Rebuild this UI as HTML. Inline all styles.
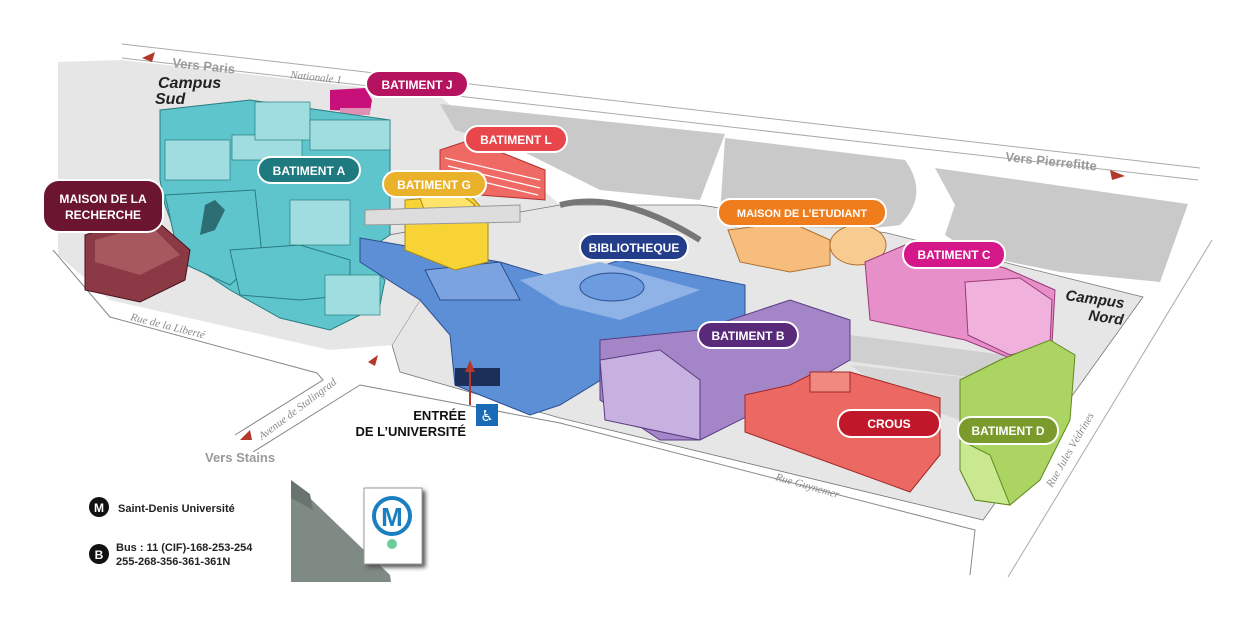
<!DOCTYPE html>
<html><head><meta charset="utf-8"><style>
html,body{margin:0;padding:0;background:#fff;width:1254px;height:617px;overflow:hidden}
svg{display:block}
.lab{font-family:"Liberation Sans",sans-serif;font-weight:bold;font-size:12px;fill:#fff}
.road{font-family:"Liberation Serif",serif;font-style:italic;font-size:11px;fill:#8a8a8a}
.vers{font-family:"Liberation Sans",sans-serif;font-weight:bold;font-size:13px;fill:#9a9a9a}
</style></head><body>
<svg width="1254" height="617" viewBox="0 0 1254 617" xmlns="http://www.w3.org/2000/svg">
<polygon points="58,62 122,60 440,96 560,205 420,300 392,345 330,350 110,300 58,255" fill="#e6e6e6"/>
<polygon points="360,240 560,205 700,205 887,233 1143,297 983,520 560,418 400,372 392,345 420,300" fill="#e6e6e6" stroke="#777" stroke-width="0.8"/>
<polygon points="392,345 420,300 360,262 330,345" fill="#e6e6e6"/>
<line x1="122" y1="44" x2="1200" y2="168" stroke="#aaa"/>
<line x1="122" y1="58" x2="1198" y2="180" stroke="#aaa"/>
<polyline points="53,250 110,317 317,373 323,380 235,435" fill="none" stroke="#888"/>
<polyline points="253,452 360,385 560,423 975,530 970,575" fill="none" stroke="#888"/>
<line x1="1212" y1="240" x2="1008" y2="577" stroke="#aaa"/>
<polygon points="440,104 725,134 700,200 600,190 520,150 455,130" fill="#c9c9c9"/>
<path d="M725,138 L905,160 Q930,195 900,225 Q850,232 780,225 L720,215 Z" fill="#c9c9c9"/>
<polygon points="935,168 1188,204 1160,282 1060,272 975,255 945,235 955,205" fill="#c9c9c9"/>
<polygon points="850,335 1005,355 990,380 840,360" fill="#cfcfcf"/>
<polygon points="850,365 990,380 960,420 900,400" fill="#d6d6d6"/>
<polygon points="330,90 365,88 372,100 370,112 330,110" fill="#c8107a"/>
<polygon points="340,108 370,108 370,115 340,115" fill="#e090b5"/>
<g fill="#5fc5cc" stroke="#2a7c80" stroke-width="1">
<polygon points="160,110 250,100 390,120 390,235 360,255 385,280 380,305 330,330 280,318 230,290 185,260 165,205 160,180"/>
<polygon points="165,195 255,190 262,255 230,285 180,262"/>
<polygon points="230,250 300,245 350,260 350,295 300,300 240,295"/>
</g>
<g fill="#9fdde0" stroke="#2a7c80" stroke-width="0.7">
<rect x="165" y="140" width="65" height="40"/><rect x="232" y="135" width="70" height="25"/>
<rect x="255" y="102" width="55" height="38"/><rect x="310" y="120" width="80" height="30"/>
<rect x="290" y="200" width="60" height="45"/><rect x="325" y="275" width="55" height="40"/>
</g>
<polygon points="205,205 215,200 225,210 215,230 200,235" fill="#2c6e73"/>
<polygon points="85,235 150,215 190,250 185,280 140,302 85,290" fill="#8b3a45" stroke="#4a1020"/>
<polygon points="95,240 150,225 180,255 140,275 95,262" fill="#a7585f"/>
<polygon points="440,150 470,140 545,170 545,200 480,195 440,175" fill="#ef6a64" stroke="#b03030"/>
<g stroke="#fff" stroke-width="1.2"><line x1="445" y1="158" x2="540" y2="180"/><line x1="448" y1="166" x2="540" y2="188"/><line x1="450" y1="174" x2="538" y2="195"/></g>
<polygon points="360,238 430,250 500,262 560,280 620,260 745,285 745,330 650,350 560,405 530,415 455,385 450,335 420,300 360,262" fill="#5d8fd6" stroke="#2c4f8f"/>
<polygon points="520,280 600,262 700,290 620,320 560,305" fill="#8fb3e6"/>
<ellipse cx="612" cy="287" rx="32" ry="14" fill="#6d9be0" stroke="#2c4f8f"/>
<polygon points="425,270 500,262 520,300 440,300" fill="#7aa3e0" stroke="#2c4f8f"/>
<rect x="455" y="368" width="45" height="18" fill="#1c2f58"/>
<polygon points="405,200 470,195 488,215 488,262 455,270 405,250" fill="#f7d336" stroke="#a88810"/>
<polygon points="420,198 455,190 475,205 455,218 425,212" fill="#ffe36a" stroke="#a88810"/>
<polygon points="600,340 700,330 790,300 850,320 850,360 790,395 700,440 660,440 600,400" fill="#a485c8" stroke="#5a3a80"/>
<polygon points="600,360 660,350 700,380 700,440 605,420" fill="#c7b1e0" stroke="#5a3a80"/>
<polygon points="728,230 790,222 830,240 830,265 790,272 740,262" fill="#f6bd7c" stroke="#b07030"/>
<ellipse cx="858" cy="245" rx="28" ry="20" fill="#f8cb90" stroke="#b07030"/>
<polygon points="865,262 905,245 1005,268 1055,290 1052,345 1010,358 965,340 870,320" fill="#e68fc8" stroke="#9a3a7a"/>
<polygon points="965,282 1020,278 1052,300 1050,345 1010,355 968,335" fill="#f0b2dc" stroke="#9a3a7a"/>
<polygon points="745,395 790,385 810,375 850,372 940,398 940,455 910,492 745,432" fill="#ec6862" stroke="#a02828"/>
<rect x="810" y="372" width="40" height="20" fill="#f08a80" stroke="#a02828"/>
<polygon points="960,380 1000,360 1050,340 1075,355 1070,420 1040,480 1010,505 975,500 960,470" fill="#acd462" stroke="#5f8a20"/>
<polygon points="960,440 990,455 1010,505 975,500 960,470" fill="#c9e890" stroke="#5f8a20"/>
<polygon points="365,210 520,205 520,222 365,225" fill="#ddd" stroke="#999"/>
<path d="M560 205 Q620 190 700 240" stroke="#777" stroke-width="6" fill="none"/>
<g stroke="#fff" stroke-width="2">
<rect x="366" y="71" width="102" height="26" rx="13" fill="#b5125f"/>
<rect x="465" y="126" width="102" height="26" rx="13" fill="#e8464b"/>
<rect x="258" y="157" width="102" height="26" rx="13" fill="#1f7a80"/>
<rect x="383" y="171" width="103" height="26" rx="13" fill="#eab12a"/>
<rect x="43" y="180" width="120" height="52" rx="16" fill="#6b1530"/>
<rect x="718" y="199" width="168" height="27" rx="13" fill="#ef7d1c"/>
<rect x="580" y="234" width="108" height="26" rx="13" fill="#233d8a"/>
<rect x="903" y="241" width="102" height="27" rx="13" fill="#d4188a"/>
<rect x="698" y="322" width="100" height="26" rx="13" fill="#5a2a7a"/>
<rect x="838" y="410" width="102" height="27" rx="13" fill="#c0182a"/>
<rect x="958" y="417" width="100" height="27" rx="13" fill="#7a9a2c"/>
</g>
<g class="lab" text-anchor="middle">
<text x="417" y="89">BATIMENT J</text>
<text x="516" y="144">BATIMENT L</text>
<text x="309" y="175">BATIMENT A</text>
<text x="434" y="189">BATIMENT G</text>
<text x="103" y="203">MAISON DE LA</text>
<text x="103" y="219">RECHERCHE</text>
<text x="802" y="217" font-size="11">MAISON DE L’ETUDIANT</text>
<text x="634" y="252">BIBLIOTHEQUE</text>
<text x="954" y="259">BATIMENT C</text>
<text x="748" y="340">BATIMENT B</text>
<text x="889" y="428">CROUS</text>
<text x="1008" y="435">BATIMENT D</text>
</g>
<polygon points="142,58 155,52 152,62" fill="#b3372a"/>
<text class="vers" x="172" y="67" transform="rotate(6 172 67)">Vers Paris</text>
<text class="road" x="290" y="78" transform="rotate(6 290 78)">Nationale 1</text>
<text x="158" y="88" font-family="Liberation Sans,sans-serif" font-weight="bold" font-style="italic" font-size="16" fill="#222">Campus</text>
<text x="155" y="104" font-family="Liberation Sans,sans-serif" font-weight="bold" font-style="italic" font-size="16" fill="#222">Sud</text>
<text class="vers" x="1005" y="161" transform="rotate(6 1005 161)">Vers Pierrefitte</text>
<polygon points="1110,170 1125,176 1112,180" fill="#b3372a"/>
<text x="1065" y="300" font-family="Liberation Sans,sans-serif" font-weight="bold" font-style="italic" font-size="15" fill="#222" transform="rotate(8 1065 300)">Campus</text>
<text x="1088" y="320" font-family="Liberation Sans,sans-serif" font-weight="bold" font-style="italic" font-size="15" fill="#222" transform="rotate(8 1088 320)">Nord</text>
<text class="road" x="130" y="320" transform="rotate(14 130 320)">Rue de la Liberté</text>
<text class="road" x="262" y="440" transform="rotate(-37 262 440)">Avenue de Stalingrad</text>
<polygon points="240,440 250,430 252,440" fill="#b3372a"/>
<polygon points="378,355 368,362 375,366" fill="#b3372a"/>
<text class="vers" x="205" y="462">Vers Stains</text>
<text class="road" x="775" y="480" transform="rotate(16 775 480)">Rue Guynemer</text>
<text class="road" x="1052" y="488" transform="rotate(-60 1052 488)">Rue Jules Védrines</text>
<line x1="470" y1="405" x2="470" y2="370" stroke="#b3372a" stroke-width="2"/>
<polygon points="465,372 470,360 475,372" fill="#b3372a"/>
<g font-family="Liberation Sans,sans-serif" font-weight="bold" font-size="13" fill="#111" text-anchor="end">
<text x="466" y="420">ENTRÉE</text><text x="466" y="436">DE L’UNIVERSITÉ</text></g>
<rect x="476" y="404" width="22" height="22" fill="#1a6bb5"/>
<text x="487" y="421" text-anchor="middle" font-size="15" fill="#fff" font-family="DejaVu Sans,sans-serif">♿</text>
<circle cx="99" cy="507" r="10" fill="#111"/>
<text x="99" y="512" text-anchor="middle" font-family="Liberation Sans,sans-serif" font-weight="bold" font-size="12" fill="#fff">M</text>
<text x="118" y="512" font-family="Liberation Sans,sans-serif" font-weight="bold" font-size="11" fill="#222">Saint-Denis Université</text>
<circle cx="99" cy="554" r="10" fill="#111"/>
<text x="99" y="559" text-anchor="middle" font-family="Liberation Sans,sans-serif" font-weight="bold" font-size="12" fill="#fff">B</text>
<text x="116" y="551" font-family="Liberation Sans,sans-serif" font-weight="bold" font-size="11" fill="#222">Bus : 11 (CIF)-168-253-254</text>
<text x="116" y="565" font-family="Liberation Sans,sans-serif" font-weight="bold" font-size="11" fill="#222">255-268-356-361-361N</text>
<polygon points="291,480 390,575 391,582 291,582" fill="#7f8a84"/>
<polygon points="291,480 310,494 313,510 291,498" fill="#6a746f"/>
<rect x="364" y="488" width="58" height="76" fill="#fff" stroke="#999" style="filter:drop-shadow(3px 3px 2px #555)"/>
<circle cx="392" cy="516" r="18" fill="none" stroke="#1a7fc0" stroke-width="4"/>
<text x="392" y="526" text-anchor="middle" font-family="Liberation Sans,sans-serif" font-weight="bold" font-size="26" fill="#1a7fc0">M</text>
<circle cx="392" cy="544" r="5" fill="#6ccb9a"/>
</svg>
</body></html>
